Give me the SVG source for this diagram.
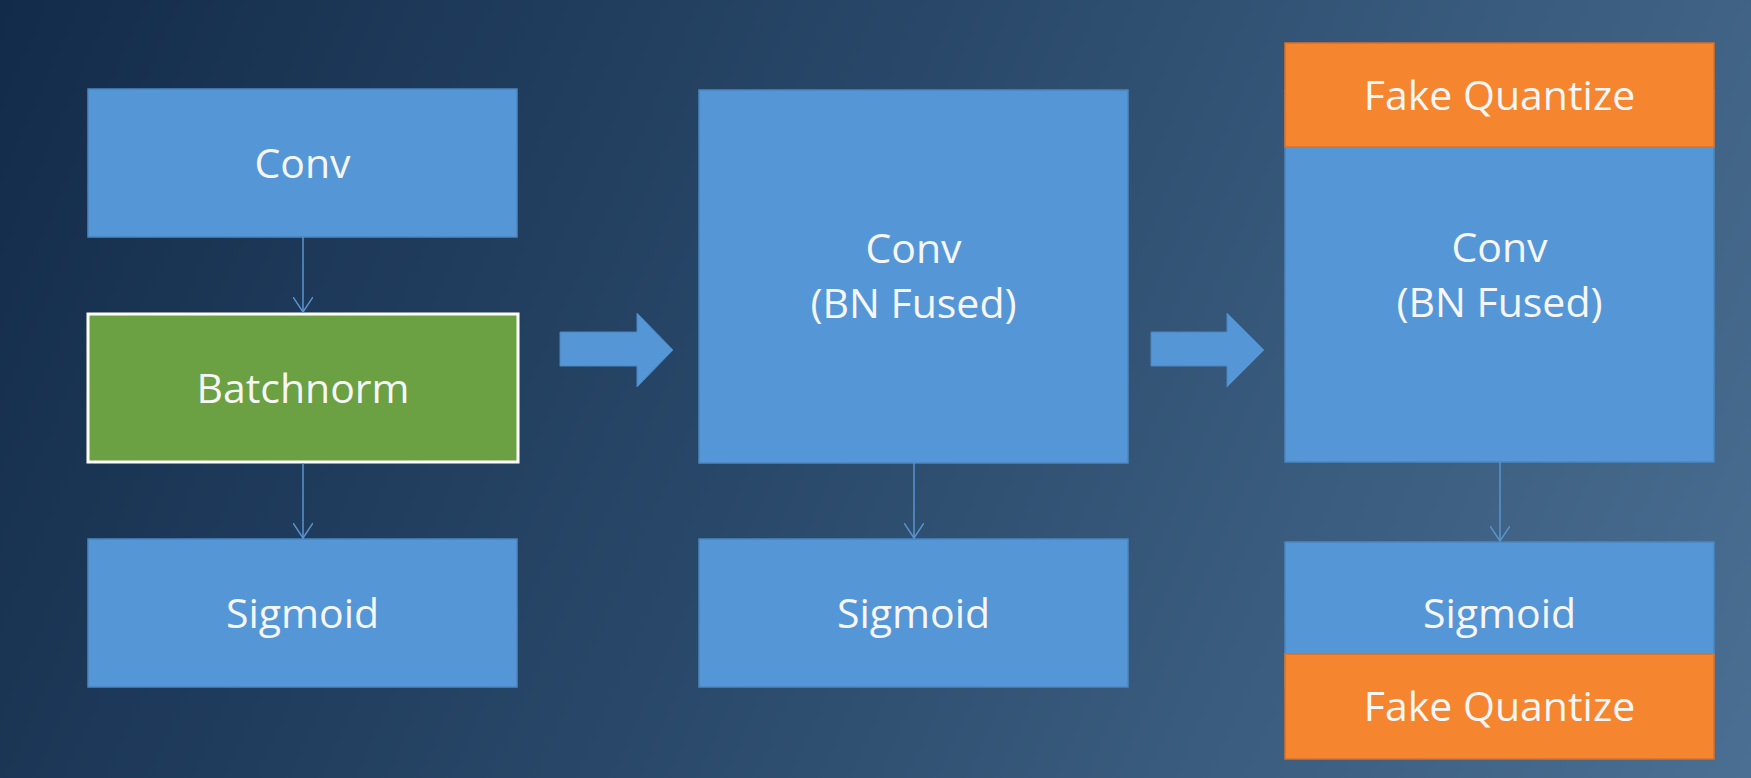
<svg xmlns="http://www.w3.org/2000/svg" width="1751" height="778" viewBox="0 0 1751 778">
<defs>
<linearGradient id="bg" gradientUnits="userSpaceOnUse" x1="0" y1="0" x2="1751" y2="778">
<stop offset="0" stop-color="#132B4A"/>
<stop offset="0.45" stop-color="#294869"/>
<stop offset="1" stop-color="#4A6F92"/>
</linearGradient>
<marker id="ah" viewBox="0 0 20 16" refX="10" refY="15" markerWidth="20" markerHeight="16" markerUnits="userSpaceOnUse" orient="auto-start-reverse">
<path d="M0,0 L10,15 L20,0" fill="none" stroke="#5A94CE" stroke-width="1.5"/>
</marker>
<marker id="ahd" viewBox="0 0 20 16" refX="10" refY="15" markerWidth="20" markerHeight="16" markerUnits="userSpaceOnUse">
<path d="M0,0 L10,15 L20,0" fill="none" stroke="#5A94CE" stroke-width="1.5"/>
</marker>
</defs>
<style>
.blue{fill:#5597D6;stroke:#4B86C0;stroke-width:1.5}
.green{fill:#6BA143;stroke:#FFFFFF;stroke-width:3}
.orange{fill:#F5862F;stroke:#D9702A;stroke-width:1.5}
.lbl{font-family:"Open Sans","Liberation Sans",sans-serif;font-size:41px;fill:#F6F6F6;text-anchor:middle}
.conn{stroke:#5A94CE;stroke-width:1.5;fill:none}
.big{fill:#5597D6;stroke:#4B86C0;stroke-width:1}
</style>
<rect x="0" y="0" width="1751" height="778" fill="url(#bg)"/>

<g id="conv1"><rect class="blue" x="88" y="89" width="429" height="148"/><text class="lbl" x="302.5" y="178">Conv</text></g>
<g id="batchnorm"><rect class="green" x="88" y="314" width="430" height="148"/><text class="lbl" x="303" y="403">Batchnorm</text></g>
<g id="sigmoid1"><rect class="blue" x="88" y="539" width="429" height="148"/><text class="lbl" x="302.5" y="628">Sigmoid</text></g>

<g id="arrow1"><path class="big" d="M560,332 H637 V313 L673,350 L637,387 V366 H560 Z"/></g>

<g id="conv2"><rect class="blue" x="699" y="90" width="429" height="373"/><text class="lbl" x="913.5" y="263">Conv</text><text class="lbl" x="913.5" y="318">(BN Fused)</text></g>
<g id="sigmoid2"><rect class="blue" x="699" y="539" width="429" height="148"/><text class="lbl" x="913.5" y="628">Sigmoid</text></g>

<g id="arrow2"><path class="big" d="M1151,332 H1227 V313 L1264,350 L1227,387 V366 H1151 Z"/></g>

<g id="conv3"><rect class="blue" x="1285" y="90" width="429" height="372"/><text class="lbl" x="1499.5" y="262">Conv</text><text class="lbl" x="1499.5" y="317">(BN Fused)</text></g>
<g id="fq1"><rect class="orange" x="1285" y="43" width="429" height="104"/><text class="lbl" x="1499.5" y="110">Fake Quantize</text></g>
<g id="sigmoid3"><rect class="blue" x="1285" y="542" width="429" height="145"/><text class="lbl" x="1499.5" y="628">Sigmoid</text></g>
<g id="fq2"><rect class="orange" x="1285" y="654" width="429" height="105"/><text class="lbl" x="1499.5" y="721">Fake Quantize</text></g>

<g id="connectors">
<line class="conn" x1="303" y1="237" x2="303" y2="312" marker-end="url(#ahd)"/>
<line class="conn" x1="303" y1="463" x2="303" y2="538" marker-end="url(#ahd)"/>
<line class="conn" x1="914" y1="463" x2="914" y2="538" marker-end="url(#ahd)"/>
<line class="conn" x1="1500" y1="462" x2="1500" y2="541" marker-end="url(#ahd)"/>
</g>
</svg>
